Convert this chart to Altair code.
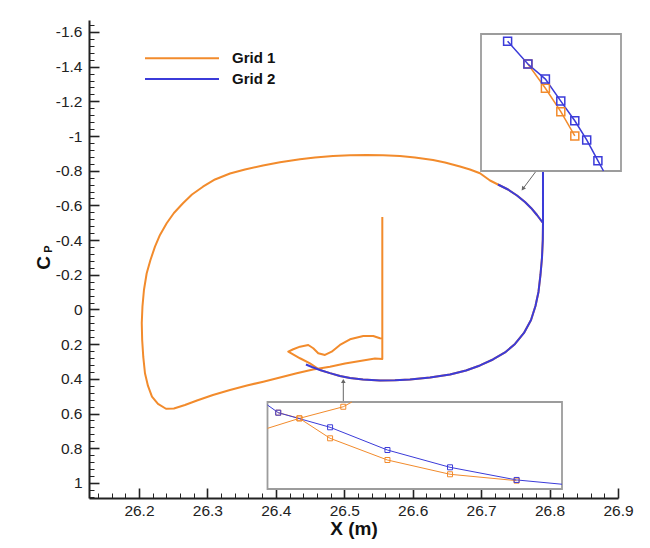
import altair as alt
import pandas as pd

# ---------------- data ----------------
SERIES = ["Grid 1", "Grid 2"]

# Grid 1 (orange) main curve, in drawing order
g1_x = [26.5556, 26.5556, 26.5522, 26.5424, 26.5278, 26.5084, 26.4937, 26.4816, 26.4718,
        26.4620, 26.4547, 26.4474, 26.4353, 26.4255, 26.4182, 26.4353, 26.4499, 26.4645,
        26.4791, 26.4937, 26.5084, 26.5274, 26.5522, 26.5741, 26.5960, 26.6253, 26.6545,
        26.6779, 26.6983, 26.7173, 26.7349, 26.7495, 26.7626, 26.7729, 26.7794, 26.7838,
        26.7867, 26.7889, 26.7901, 26.7904, 26.7816, 26.7729, 26.7641, 26.7524, 26.7393,
        26.7246, 26.7130, 26.6983, 26.6837, 26.6691, 26.6472, 26.6297, 26.6033, 26.5814,
        26.5566, 26.5328, 26.5084, 26.4835, 26.4572, 26.4353, 26.4061, 26.3812, 26.3549,
        26.3330, 26.3111, 26.2935, 26.2775, 26.2643, 26.2511, 26.2405, 26.2307, 26.2234,
        26.2168, 26.2113, 26.2073, 26.2051, 26.2041, 26.2047, 26.2063, 26.2088, 26.2132,
        26.2190, 26.2278, 26.2395, 26.2511, 26.2672, 26.2848, 26.3081, 26.3330, 26.3578,
        26.3817, 26.4061, 26.4305, 26.4543, 26.4791, 26.5011, 26.5230, 26.5449, 26.5556,
        26.5556]
g1_y = [-0.5333, 0.1672, 0.1660, 0.1528, 0.1528, 0.1718, 0.2047, 0.2433, 0.2623,
        0.2525, 0.2237, 0.2047, 0.2145, 0.2294, 0.2433, 0.2813, 0.3113, 0.3488,
        0.3672, 0.3834, 0.3949, 0.4036, 0.4093, 0.4082, 0.4036, 0.3920, 0.3747,
        0.3517, 0.3228, 0.2883, 0.2479, 0.1989, 0.1355, 0.0605, -0.0202, -0.1009,
        -0.1989, -0.2969, -0.4007, -0.4987, -0.5448, -0.5852, -0.6197, -0.6572, -0.6918,
        -0.7206, -0.7437, -0.7852, -0.8071, -0.8244, -0.8475, -0.8619, -0.8763, -0.8849,
        -0.8895, -0.8907, -0.8895, -0.8849, -0.8763, -0.8659, -0.8486, -0.8302, -0.8071,
        -0.7840, -0.7495, -0.7079, -0.6630, -0.6122, -0.5563, -0.4969, -0.4295, -0.3620,
        -0.2854, -0.2087, -0.1124, -0.0161, 0.0778, 0.1758, 0.2738, 0.3678, 0.4410,
        0.5027, 0.5448, 0.5725, 0.5707, 0.5506, 0.5246, 0.4929, 0.4641, 0.4387,
        0.4162, 0.3920, 0.3678, 0.3459, 0.3298, 0.3113, 0.2969, 0.2825, 0.2854,
        0.1672]

# Grid 2 (blue) main curve, in drawing order
g2_x = [26.7246, 26.7393, 26.7524, 26.7641, 26.7729, 26.7816, 26.7904, 26.7904, 26.7904,
        26.7901, 26.7889, 26.7867, 26.7838, 26.7794, 26.7729, 26.7626, 26.7495, 26.7349,
        26.7173, 26.6983, 26.6779, 26.6545, 26.6253, 26.5960, 26.5741, 26.5522, 26.5274,
        26.5084, 26.4937, 26.4791, 26.4645, 26.4528, 26.4440]
g2_y = [-0.7206, -0.6918, -0.6572, -0.6197, -0.5852, -0.5448, -0.4987, -0.8619, -0.4987,
        -0.4007, -0.2969, -0.1989, -0.1009, -0.0202, 0.0605, 0.1355, 0.1989, 0.2479,
        0.2883, 0.3228, 0.3517, 0.3747, 0.3920, 0.4036, 0.4082, 0.4093, 0.4036,
        0.3949, 0.3834, 0.3672, 0.3488, 0.3315, 0.3171]

# arrows pointing from the insets to the zoomed places (main coordinates)
arrow_id = ["tr", "tr", "b", "b"]
arrow_x = [26.7797, 26.7616, 26.4986, 26.4986]
arrow_y = [-0.7944, -0.6987, 0.5315, 0.4162]

# top-right inset (zoom of the upper junction)
TR_X_DOMAIN = [26.747, 26.767]
TR_Y_DOMAIN = [-0.6554, -0.6074]
tr_g2_x = [26.7508, 26.7537, 26.7562, 26.7584, 26.7604, 26.7621, 26.7637, 26.7645]
tr_g2_y = [-0.6529, -0.6449, -0.6396, -0.6319, -0.6250, -0.6183, -0.6110, -0.6074]
tr_g1_x = [26.7537, 26.7562, 26.7584, 26.7604]
tr_g1_y = [-0.6449, -0.6364, -0.6282, -0.6197]
TR_X_TICKS = [26.7544, 26.7614]
TR_Y_TICKS = [-0.6501, -0.6424, -0.6351, -0.6277, -0.6200, -0.6127]

# bottom inset (zoom of the lower junction)
B_X_DOMAIN = [26.454, 26.550]
B_Y_DOMAIN = [0.339, 0.414]
b_g2_x = [26.454, 26.4575, 26.4744, 26.4931, 26.5135, 26.5352, 26.550]
b_g2_y = [0.3416, 0.3482, 0.3608, 0.3804, 0.3953, 0.4062, 0.4099]
b_g1_x = [26.4575, 26.4644, 26.4744, 26.4931, 26.5135, 26.5352]
b_g1_y = [0.3482, 0.3531, 0.3703, 0.3890, 0.4013, 0.4068]
b_g1d_x = [26.454, 26.4644, 26.4787, 26.4815]
b_g1d_y = [0.3617, 0.3531, 0.3431, 0.339]
B_Y_TICKS = [0.3614, 0.3830, 0.4037]

# axes
X_DOMAIN = [26.127, 26.9]
Y_DOMAIN = [-1.669, 1.087]
X_MAJOR = [26.2, 26.3, 26.4, 26.5, 26.6, 26.7, 26.8, 26.9]
Y_MAJOR = [-1.6, -1.4, -1.2, -1.0, -0.8, -0.6, -0.4, -0.2, 0.0, 0.2, 0.4, 0.6, 0.8, 1.0]
X_MINOR = [v for v in (round(26.14 + 0.02 * k, 2) for k in range(38))
           if abs(v * 10 - round(v * 10)) > 1e-6]
Y_MINOR = [v for v in (round(-1.64 + 0.04 * k, 2) for k in range(69))
           if abs(v / 0.2 - round(v / 0.2)) > 1e-6]

# ---------------- style / layout ----------------
ORANGE = "#F28B2C"
BLUE = "#3B3BD9"
INK = "#222222"
FONT = "Liberation Sans"
W, H = 529, 478
TR_PX = (392, 532, 14, 151)      # inset boxes in plot pixels
B_PX = (178.5, 473, 382, 469)
LEGEND_ROWS_PX = [38.3, 59]
LABEL_EXPR = "replace(format(datum.value, '~g'), '\u2212', '-')"

cs = alt.Scale(domain=SERIES, range=[ORANGE, BLUE])
no_legend_color = alt.Color("series:N", scale=cs, legend=None)


def frame(xs_, ys_, series, part):
    return pd.DataFrame({"x": xs_, "y": ys_, "series": series, "part": part,
                         "i": list(range(len(xs_)))})


# ---------------- main plot ----------------
xs = alt.Scale(domain=X_DOMAIN, nice=False, zero=False)
ys = alt.Scale(domain=Y_DOMAIN, nice=False, zero=False, reverse=True)

common_axis = dict(grid=False, labelFlush=False, labelOverlap=False, labelBound=False)

ax_x_major = alt.Axis(orient="bottom", values=X_MAJOR, offset=-10, tickSize=10, tickWidth=1.6,
                      tickColor=INK, domain=False, labelExpr=LABEL_EXPR, labelFont=FONT,
                      labelFontSize=15.5, labelColor=INK, labelPadding=5,
                      title="X (m)", titleFont=FONT, titleFontSize=19, titleFontWeight="bold",
                      titleColor="#111111", titlePadding=1, **common_axis)
ax_y_major = alt.Axis(orient="left", values=Y_MAJOR, offset=-10, tickSize=10, tickWidth=1.6,
                      tickColor=INK, domain=False, labelExpr=LABEL_EXPR, labelFont=FONT,
                      labelFontSize=15.5, labelColor=INK, labelPadding=7, title=None,
                      **common_axis)
ax_x_minor = alt.Axis(orient="bottom", values=X_MINOR, offset=-5, tickSize=5, tickWidth=1,
                      tickColor=INK, domain=False, labels=False, title=None, grid=False)
ax_y_minor = alt.Axis(orient="left", values=Y_MINOR, offset=-5, tickSize=5, tickWidth=1,
                      tickColor=INK, domain=False, labels=False, title=None, grid=False)
ax_x_dom = alt.Axis(orient="bottom", ticks=False, labels=False, domain=True, domainWidth=2,
                    domainColor=INK, title=None, grid=False)
ax_y_dom = alt.Axis(orient="left", ticks=False, labels=False, domain=True, domainWidth=2,
                    domainColor=INK, title=None, grid=False)

anchor_df = pd.DataFrame({"x": [X_DOMAIN[0]], "y": [Y_DOMAIN[0]]})

dom_layer = alt.Chart(anchor_df).mark_point(opacity=0).encode(
    x=alt.X("x:Q", scale=xs, axis=ax_x_dom), y=alt.Y("y:Q", scale=ys, axis=ax_y_dom))
minor_layer = alt.Chart(anchor_df).mark_point(opacity=0).encode(
    x=alt.X("x:Q", scale=xs, axis=ax_x_minor), y=alt.Y("y:Q", scale=ys, axis=ax_y_minor))

g1_line = alt.Chart(frame(g1_x, g1_y, "Grid 1", "main")).mark_line(
    strokeWidth=2, strokeJoin="round").encode(
    x=alt.X("x:Q", scale=xs, axis=ax_x_major), y=alt.Y("y:Q", scale=ys, axis=ax_y_major),
    color=no_legend_color, order="i:Q")
g2_line = alt.Chart(frame(g2_x, g2_y, "Grid 2", "main")).mark_line(
    strokeWidth=2, strokeJoin="round").encode(
    x=alt.X("x:Q", scale=xs, axis=None), y=alt.Y("y:Q", scale=ys, axis=None),
    color=no_legend_color, order="i:Q")

arrow_df = pd.DataFrame({"x": arrow_x, "y": arrow_y, "arrow": arrow_id, "i": [0, 1, 0, 1]})
arrow_line = alt.Chart(arrow_df).mark_line(color="#666666", strokeWidth=1).encode(
    x=alt.X("x:Q", scale=xs, axis=None), y=alt.Y("y:Q", scale=ys, axis=None),
    detail="arrow:N", order="i:Q")
tip_tr = alt.Chart(arrow_df).transform_filter("datum.arrow == 'tr' && datum.i == 1").mark_point(
    shape="triangle", filled=True, color="#666666", size=22, angle=217, opacity=1).encode(
    x=alt.X("x:Q", scale=xs, axis=None), y=alt.Y("y:Q", scale=ys, axis=None))
tip_b = alt.Chart(arrow_df).transform_filter("datum.arrow == 'b' && datum.i == 1").mark_point(
    shape="triangle", filled=True, color="#666666", size=22, angle=0, opacity=1).encode(
    x=alt.X("x:Q", scale=xs, axis=None), y=alt.Y("y:Q", scale=ys, axis=None))

main = alt.layer(dom_layer, minor_layer, g1_line, g2_line, arrow_line, tip_tr, tip_b
                 ).resolve_axis(x="independent", y="independent")


# ---------------- insets ----------------
def inset(xdom, ydom, px, lines, marker_size, line_w, x_axis, y_axis):
    sx = alt.Scale(domain=xdom, range=[px[0], px[1]], nice=False, zero=False)
    sy = alt.Scale(domain=ydom, range=[px[2], px[3]], nice=False, zero=False)
    box_df = pd.DataFrame({"x0": [xdom[0]], "x1": [xdom[1]], "y0": [ydom[0]], "y1": [ydom[1]]})
    box = alt.Chart(box_df).mark_rect(fill="white", stroke="#9c9c9c", strokeWidth=1.8).encode(
        x=alt.X("x0:Q", scale=sx, axis=x_axis), x2="x1:Q",
        y=alt.Y("y0:Q", scale=sy, axis=y_axis), y2="y1:Q")
    inside = (f"datum.x > {xdom[0]} && datum.x < {xdom[1]} && "
              f"datum.y > {ydom[0]} && datum.y < {ydom[1]}")
    layers = [box]
    for df in lines:
        layers.append(alt.Chart(df).mark_line(strokeWidth=line_w).encode(
            x=alt.X("x:Q", scale=sx, axis=None), y=alt.Y("y:Q", scale=sy, axis=None),
            color=no_legend_color, detail="part:N", order="i:Q"))
    for df in lines:
        layers.append(alt.Chart(df).transform_filter(inside).mark_point(
            shape="square", filled=False, size=marker_size, strokeWidth=line_w, opacity=1).encode(
            x=alt.X("x:Q", scale=sx, axis=None), y=alt.Y("y:Q", scale=sy, axis=None),
            color=no_legend_color))
    return alt.layer(*layers)


tr_x_axis = alt.Axis(orient="bottom", values=TR_X_TICKS, offset=(TR_PX[3] - 3) - H, tickSize=3,
                     tickColor="#999999", labels=False, domain=False, grid=False, title=None)
tr_y_axis = alt.Axis(orient="left", values=TR_Y_TICKS, offset=-(TR_PX[0] + 3), tickSize=3,
                     tickColor="#999999", labels=False, domain=False, grid=False, title=None)
b_y_axis = alt.Axis(orient="left", values=B_Y_TICKS, offset=-(B_PX[0] + 3), tickSize=3,
                    tickColor="#999999", labels=False, domain=False, grid=False, title=None)

inset_tr = inset(TR_X_DOMAIN, TR_Y_DOMAIN, TR_PX,
                 [frame(tr_g1_x, tr_g1_y, "Grid 1", "a"), frame(tr_g2_x, tr_g2_y, "Grid 2", "a")],
                 64, 1.5, tr_x_axis, tr_y_axis)
inset_b = inset(B_X_DOMAIN, B_Y_DOMAIN, B_PX,
                [pd.concat([frame(b_g1_x, b_g1_y, "Grid 1", "a"),
                            frame(b_g1d_x, b_g1d_y, "Grid 1", "b")]),
                 frame(b_g2_x, b_g2_y, "Grid 2", "a")],
                 25, 1.0, None, b_y_axis)

# ---------------- legend ----------------
legend_layers = []
for name, row_y in zip(SERIES, LEGEND_ROWS_PX):
    ldf = pd.DataFrame({"series": [name]})
    legend_layers.append(alt.Chart(ldf).mark_rule(strokeWidth=2).encode(
        x=alt.value(56), x2=alt.value(130), y=alt.value(row_y), color=no_legend_color))
    legend_layers.append(alt.Chart(ldf).mark_text(
        align="left", baseline="middle", font=FONT, fontSize=15, fontWeight="bold",
        color="#111111").encode(x=alt.value(143), y=alt.value(row_y), text="series:N"))
legend = alt.layer(*legend_layers)

# ---------------- y title C_P ----------------
title_df = pd.DataFrame({"t": ["C"]})
y_title = alt.Chart(title_df).mark_text(text="C", angle=270, font=FONT, fontSize=19,
                                        fontWeight="bold", color="#111111", align="center",
                                        baseline="middle").encode(
    x=alt.value(-45.5), y=alt.value(243))
y_sub = alt.Chart(title_df).mark_text(text="P", angle=270, font=FONT, fontSize=11,
                                      fontWeight="bold", color="#111111", align="center",
                                      baseline="middle").encode(
    x=alt.value(-40.5), y=alt.value(229))

chart = alt.layer(main, inset_tr, inset_b, legend, y_title, y_sub).resolve_scale(
    x="independent", y="independent").properties(
    width=W, height=H,
    padding={"left": 89, "top": 20, "right": 650 - 89 - W, "bottom": 548 - 20 - H},
    autosize=alt.AutoSizeParams(type="none"),
    background="white",
).configure_view(stroke=None)

chart.save("out.html", embed_options={"renderer": "svg", "actions": False})
